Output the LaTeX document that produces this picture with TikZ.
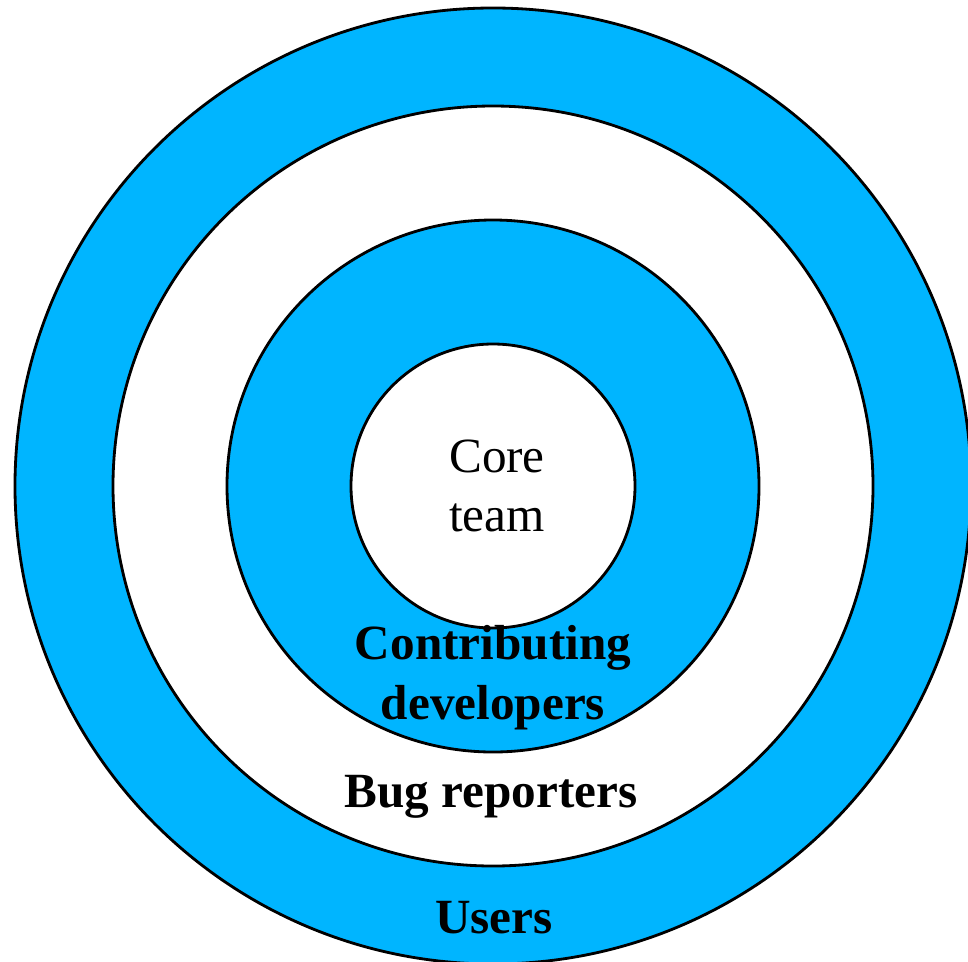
\documentclass[tikz,border=0pt]{standalone}
\usepackage{fontspec}
\setmainfont{Liberation Serif}
\definecolor{ringblue}{RGB}{0,181,255}
\tikzset{
  ring/.style={draw=black,line width=0.8pt},
  label/.style={font=\fontsize{14}{17}\selectfont\bfseries,align=center,inner sep=0pt}
}
\begin{document}
\begin{tikzpicture}
  \useasboundingbox (-4.93,-4.75) rectangle (4.75,4.86);
  \clip (-4.93,-4.75) rectangle (4.75,4.86);
  \foreach \r/\c in {4.78/ringblue,3.80/white,2.66/ringblue,1.42/white}
    \draw[ring,fill=\c] (0,0) circle (\r);
  \node[label,font=\fontsize{14}{17}\selectfont] (core) at (0.04,0) {Core\\team};
  \node[label] (contrib) at (0,-1.92) {Contributing\\developers};
  \node[label,anchor=base] (bugs) at (-0.02,-3.21) {Bug reporters};
  \node[label,anchor=base] (users) at (0.01,-4.47) {Users};
\end{tikzpicture}
\end{document}
